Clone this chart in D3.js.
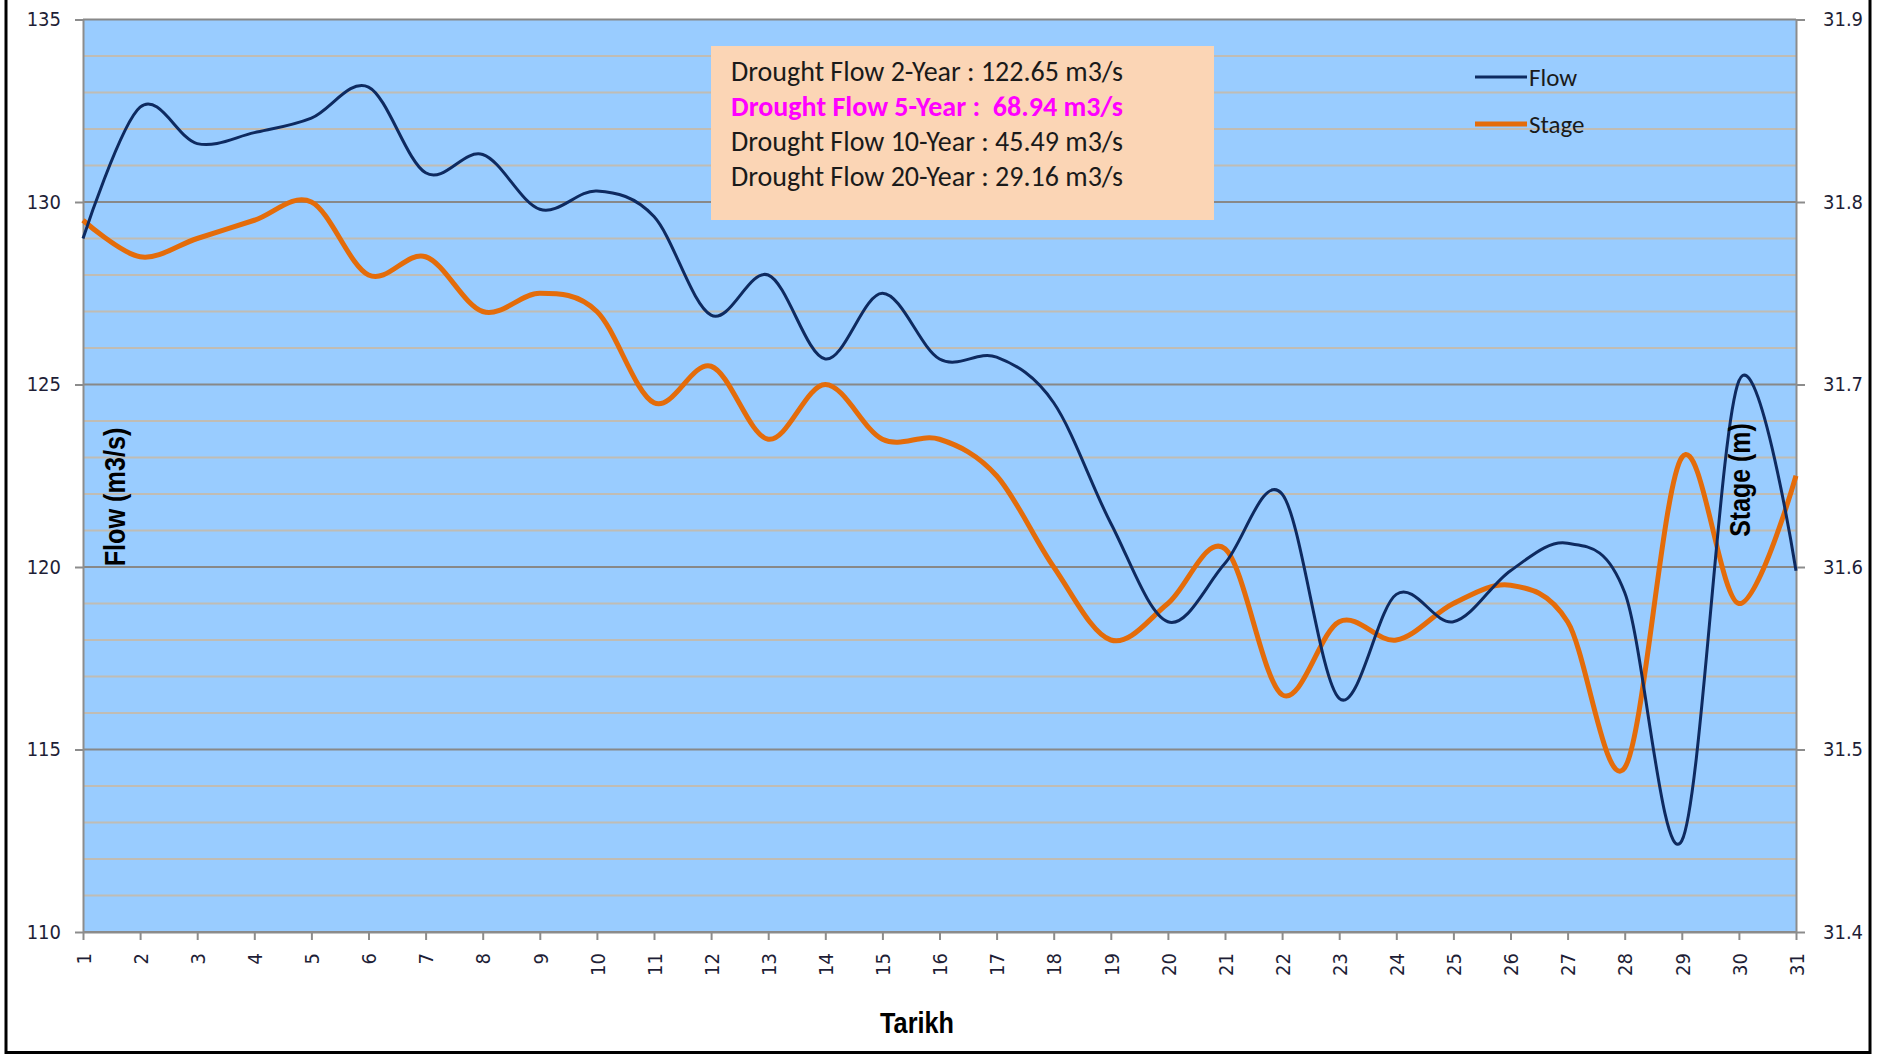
<!DOCTYPE html>
<html>
<head>
<meta charset="utf-8">
<script src="https://cdn.jsdelivr.net/npm/d3@7"></script>
<style>
  body { margin: 0; background: #fff; }
  svg { display: block; }
</style>
</head>
<body>
<div id="chart"></div>
<script>
// daily values
var days = d3.range(1, 32);
var flowValues = [129.0, 132.6, 131.6, 131.9, 132.3, 133.15, 130.8, 131.3, 129.8, 130.3,
    129.6, 126.9, 128.0, 125.7, 127.5, 125.7, 125.75, 124.5, 121.2, 118.5,
    120.1, 122.0, 116.4, 119.25, 118.5, 119.9, 120.65, 119.3, 112.5, 125.1, 119.9];
var stageValues = [31.79, 31.77, 31.78, 31.79, 31.80, 31.76, 31.77, 31.74, 31.75, 31.74,
    31.69, 31.71, 31.67, 31.70, 31.67, 31.67, 31.65, 31.60, 31.56, 31.58,
    31.61, 31.53, 31.57, 31.56, 31.58, 31.59, 31.57, 31.49, 31.66, 31.58, 31.65];
var flowTicks = [110, 115, 120, 125, 130, 135];
var stageTicks = [31.4, 31.5, 31.6, 31.7, 31.8, 31.9];
var noteLines = [
    { text: "Drought Flow 2-Year : 122.65 m3/s", highlight: false },
    { text: "Drought Flow 5-Year :  68.94 m3/s", highlight: true },
    { text: "Drought Flow 10-Year : 45.49 m3/s", highlight: false },
    { text: "Drought Flow 20-Year : 29.16 m3/s", highlight: false }
];
var legendItems = [
    { label: "Flow", color: "#0e2a60", width: 3 },
    { label: "Stage", color: "#e46c0a", width: 5 }
];

var width = 1888;
var height = 1054;
var plot = { left: 83, right: 1796, top: 19.5, bottom: 932 };

var tickFont = "'DejaVu Sans Condensed', 'DejaVu Sans', sans-serif";
var titleFont = "'Liberation Sans', Arial, sans-serif";
var boxFont = "Carlito, Calibri, Lato, sans-serif";

var svg = d3.select("#chart").append("svg")
    .attr("width", width)
    .attr("height", height);

svg.append("rect")
    .attr("width", width).attr("height", height)
    .attr("fill", "#fff");

// outer chart border (top edge is cut off in the picture)
svg.append("rect")
    .attr("x", 6).attr("y", -6)
    .attr("width", 1864).attr("height", 1058.5)
    .attr("fill", "none")
    .attr("stroke", "#000")
    .attr("stroke-width", 3);

var x = d3.scaleLinear().domain([1, 31]).range([plot.left, plot.right]);
var yFlow = d3.scaleLinear().domain([110, 135]).range([plot.bottom, plot.top]);
var yStage = d3.scaleLinear().domain([31.4, 31.9]).range([plot.bottom, plot.top]);

svg.append("rect")
    .attr("x", plot.left).attr("y", plot.top)
    .attr("width", plot.right - plot.left)
    .attr("height", plot.bottom - plot.top)
    .attr("fill", "#99ccff");

// gridlines: minor every 1, major every 5
var gridVals = d3.range(110, 136, 1);
svg.append("g").selectAll("line")
    .data(gridVals)
    .enter().append("line")
    .attr("x1", plot.left).attr("x2", plot.right)
    .attr("y1", d => yFlow(d)).attr("y2", d => yFlow(d))
    .attr("stroke", d => d % 5 === 0 ? "#888888" : "#c0bcb4")
    .attr("stroke-width", 2);

// axes
var axisColor = "#8c8c8c";

var gLeft = svg.append("g")
    .attr("transform", `translate(${plot.left},0)`)
    .call(d3.axisLeft(yFlow).tickValues(flowTicks).tickSize(8).tickPadding(14).tickSizeOuter(0));

var gRight = svg.append("g")
    .attr("transform", `translate(${plot.right},0)`)
    .call(d3.axisRight(yStage).tickValues(stageTicks).tickFormat(d3.format(".1f"))
        .tickSize(9).tickPadding(18).tickSizeOuter(0));

var gBottom = svg.append("g")
    .attr("transform", `translate(0,${plot.bottom})`)
    .call(d3.axisBottom(x).tickValues(days).tickFormat(d3.format("d")).tickSize(8).tickSizeOuter(0));

[gLeft, gRight, gBottom].forEach(function(g) {
    g.select(".domain").attr("stroke", axisColor).attr("stroke-width", 2);
    g.selectAll(".tick line").attr("stroke", axisColor).attr("stroke-width", 2);
    g.selectAll("text")
        .attr("fill", "#1e1e36")
        .style("font-family", tickFont)
        .style("font-size", "20px");
});

gBottom.selectAll("text")
    .attr("transform", "rotate(-90)")
    .attr("x", -21)
    .attr("y", 0)
    .attr("dy", "0.36em")
    .attr("text-anchor", "end");

// note box
var box = svg.append("g");
box.append("rect")
    .attr("x", 711).attr("y", 46)
    .attr("width", 503).attr("height", 174)
    .attr("fill", "#fbd5b5");

box.selectAll("text")
    .data(noteLines)
    .enter().append("text")
    .attr("x", 731)
    .attr("y", (d, i) => 81 + i * 35)
    .attr("xml:space", "preserve")
    .style("white-space", "pre")
    .style("font-family", boxFont)
    .style("font-size", "28px")
    .style("font-weight", d => d.highlight ? "bold" : "normal")
    .attr("fill", d => d.highlight ? "#ff00ff" : "#1a1a1a")
    .text(d => d.text);

// lines
var curve = d3.curveCatmullRom.alpha(0);

var flowLine = d3.line()
    .x((d, i) => x(days[i]))
    .y(d => yFlow(d))
    .curve(curve);

var stageLine = d3.line()
    .x((d, i) => x(days[i]))
    .y(d => yStage(d))
    .curve(curve);

svg.append("path")
    .datum(stageValues)
    .attr("d", stageLine)
    .attr("fill", "none")
    .attr("stroke", legendItems[1].color)
    .attr("stroke-width", legendItems[1].width)
    .attr("stroke-linejoin", "round");

svg.append("path")
    .datum(flowValues)
    .attr("d", flowLine)
    .attr("fill", "none")
    .attr("stroke", legendItems[0].color)
    .attr("stroke-width", legendItems[0].width)
    .attr("stroke-linejoin", "round");

// legend
var legend = svg.append("g").selectAll("g")
    .data(legendItems)
    .enter().append("g")
    .attr("transform", (d, i) => `translate(1475,${77 + i * 47})`);

legend.append("line")
    .attr("x1", 0).attr("x2", 52)
    .attr("stroke", d => d.color)
    .attr("stroke-width", d => d.width);

legend.append("text")
    .attr("x", 54)
    .attr("dy", "0.36em")
    .style("font-family", boxFont)
    .style("font-size", "25px")
    .attr("fill", "#1a1a1a")
    .text(d => d.label);

// axis titles (narrow bold face squeezed horizontally)
svg.append("text")
    .attr("transform", "translate(125,497) rotate(-90) scale(0.87,1)")
    .attr("text-anchor", "middle")
    .style("font-family", titleFont)
    .style("font-size", "29px")
    .style("font-weight", "bold")
    .text("Flow (m3/s)");

svg.append("text")
    .attr("transform", "translate(1750,480) rotate(-90) scale(0.86,1)")
    .attr("text-anchor", "middle")
    .style("font-family", titleFont)
    .style("font-size", "29px")
    .style("font-weight", "bold")
    .text("Stage (m)");

svg.append("text")
    .attr("transform", "translate(917,1033) scale(0.87,1)")
    .attr("text-anchor", "middle")
    .style("font-family", titleFont)
    .style("font-size", "29px")
    .style("font-weight", "bold")
    .text("Tarikh");
</script>
</body>
</html>
